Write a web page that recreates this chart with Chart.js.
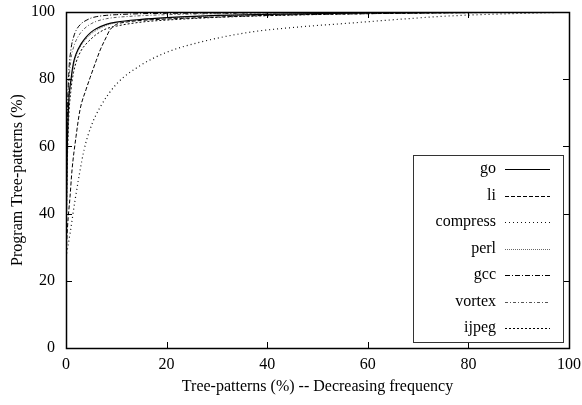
<!DOCTYPE html>
<html>
<head>
<meta charset="utf-8">
<script src="https://cdn.jsdelivr.net/npm/chart.js@4.4.1/dist/chart.umd.min.js"></script>
<style>
html,body{margin:0;padding:0;background:#fff;}
#wrap{width:582px;height:405px;}
</style>
</head>
<body>
<div id="wrap"><canvas id="c" width="582" height="405"></canvas></div>
<script>
// ---- data ----
const seriesNames = ['go','li','compress','perl','gcc','vortex','ijpeg'];
const xTicks = [0,20,40,60,80,100];
const yTicks = [0,20,40,60,80,100];

const goX = [0,0.2,0.5,1,1.5,2,3,4,5,6,8,10,15,20,30,40,50,60,80,100];
const goY = [27,55,72,80,85,87.5,90.5,92.5,94,95,96.3,97,97.8,98.3,99,99.3,99.5,99.7,99.9,100];

const liX = [0,0.3,0.8,1.2,2,2.8,4,4.8,6,6.8,8,8.7,10,12,15,20,30,40,60,80,100];
const liY = [27,36,45,53,63,71,77,80.5,85.5,88.7,92.5,94.6,96.3,97,97.5,97.9,98.5,99,99.5,99.8,100];

const compressX = [0,0.8,1.8,3.6,5,6.8,10,14.7,20,26.6,36.6,46,56.5,66,76,86,96,100];
const compressY = [27,34,44,59,66,71.7,78.5,84,88,91,94,95.5,96.7,97.8,98.8,99.4,99.8,100];

const perlX = [0,0.2,0.5,1,1.5,2,3,4,5,6,8,10,15,20,30,40,60,80,100];
const perlY = [27,52,70,79,84,87,90,92,93.5,94.5,96,96.8,97.7,98.2,98.9,99.3,99.7,99.9,100];

const gccX = [0,0.2,0.5,1,1.5,2,3,4,5,6,8,10,15,20,30,50,100];
const gccY = [27,62,80,89,92.5,94.5,96.5,97.5,98.2,98.6,99,99.2,99.5,99.6,99.7,99.85,100];

const vortexX = [0,0.2,0.5,1,1.5,2,3,4,5,6,8,10,15,20,30,50,100];
const vortexY = [27,58,76,86,89.5,91.5,94,95.5,96.5,97.2,98,98.4,98.9,99.2,99.5,99.8,100];

const ijpegX = [0,0.2,0.5,1,1.5,2,3,4,5,6,8,10,15,20,30,40,60,80,100];
const ijpegY = [27,50,67,77,82,85,88.5,90.5,92,93.3,95,95.8,97,97.6,98.4,98.9,99.5,99.8,100];

const xTitle = 'Tree-patterns (%) -- Decreasing frequency';
const yTitle = 'Program Tree-patterns (%)';

// ---- build ----
function pts(xs, ys){ return xs.map((x,i)=>({x:x, y:ys[i]})); }
const seriesData = [pts(goX,goY),pts(liX,liY),pts(compressX,compressY),pts(perlX,perlY),pts(gccX,gccY),pts(vortexX,vortexY),pts(ijpegX,ijpegY)];
const styles = [
  {color:'#000', dash:[], w:1.2},
  {color:'#000', dash:[4,2], w:1},
  {color:'#111', dash:[1,3], w:1.2},
  {color:'#666', dash:[1,1], w:1},
  {color:'#000', dash:[5,2,1,2], w:1},
  {color:'#555', dash:[3,2,1,2], w:1},
  {color:'#000', dash:[2,2], w:1}
];
const FONT = 'Liberation Serif, Times New Roman, serif';

const frameAndTicks = {
  id:'frameAndTicks',
  afterDatasetsDraw(chart){
    const {ctx, chartArea:a, scales:{x, y}} = chart;
    ctx.save();
    ctx.strokeStyle = '#000';
    ctx.lineWidth = 1;
    ctx.setLineDash([]);
    const L = 6;
    ctx.beginPath();
    xTicks.forEach(v=>{
      const px = Math.round(x.getPixelForValue(v))+0.5;
      ctx.moveTo(px, a.bottom); ctx.lineTo(px, a.bottom-L);
      ctx.moveTo(px, a.top); ctx.lineTo(px, a.top+L);
    });
    yTicks.forEach(v=>{
      const py = Math.round(y.getPixelForValue(v))+0.5;
      ctx.moveTo(a.left, py); ctx.lineTo(a.left+L, py);
      ctx.moveTo(a.right, py); ctx.lineTo(a.right-L, py);
    });
    ctx.stroke();
    ctx.lineWidth = 1.5;
    ctx.strokeRect(Math.round(a.left)+0.5, Math.round(a.top)+0.5, Math.round(a.right-a.left), Math.round(a.bottom-a.top));
    // legend
    const bx = 413, by = 155, bw = 150, bh = 187;
    ctx.fillStyle = '#fff';
    ctx.fillRect(bx, by, bw, bh);
    ctx.lineWidth = 1;
    ctx.strokeStyle = '#333';
    ctx.strokeRect(bx+0.5, by+0.5, bw, bh);
    ctx.font = '16px ' + FONT;
    ctx.textAlign = 'right';
    ctx.textBaseline = 'middle';
    chart.data.datasets.forEach((ds,i)=>{
      const ry = 169 + i*26.5;
      ctx.fillStyle = '#000';
      ctx.fillText(ds.label, 496, ry);
      ctx.strokeStyle = ds.borderColor;
      ctx.setLineDash(ds.borderDash);
      ctx.lineWidth = 1;
      ctx.beginPath();
      ctx.moveTo(505, Math.round(ry)+0.5);
      ctx.lineTo(550, Math.round(ry)+0.5);
      ctx.stroke();
    });
    ctx.restore();
  }
};

new Chart(document.getElementById('c'), {
  type:'line',
  data:{
    datasets: seriesNames.map((n,i)=>({
      label:n,
      data:seriesData[i],
      borderColor:styles[i].color,
      borderDash:styles[i].dash,
      borderWidth:styles[i].w,
      pointRadius:0,
      fill:false,
      cubicInterpolationMode:'monotone'
    }))
  },
  options:{
    responsive:false,
    animation:false,
    layout:{padding:{top:12,right:13,left:0,bottom:0}},
    plugins:{legend:{display:false}, tooltip:{enabled:false}},
    scales:{
      x:{
        type:'linear', min:0, max:100,
        afterFit(s){ s.height = 57; s.paddingLeft = 0; s.paddingRight = 0; },
        afterBuildTicks(s){ s.ticks = xTicks.map(v=>({value:v})); },
        grid:{display:false, drawTicks:false},
        border:{display:false},
        ticks:{font:{family:FONT,size:16}, color:'#000', padding:7, maxRotation:0},
        title:{display:true, text:xTitle, font:{family:FONT,size:16}, color:'#000', padding:{top:0,bottom:9}}
      },
      y:{
        type:'linear', min:0, max:100,
        afterFit(s){ s.width = 66; s.paddingTop = 0; s.paddingBottom = 0; },
        afterBuildTicks(s){ s.ticks = yTicks.map(v=>({value:v})); },
        grid:{display:false, drawTicks:false},
        border:{display:false},
        ticks:{font:{family:FONT,size:16}, color:'#000', padding:11},
        title:{display:true, text:yTitle, font:{family:FONT,size:16}, color:'#000', padding:{top:8,bottom:0}}
      }
    }
  },
  plugins:[frameAndTicks]
});
</script>
</body>
</html>
